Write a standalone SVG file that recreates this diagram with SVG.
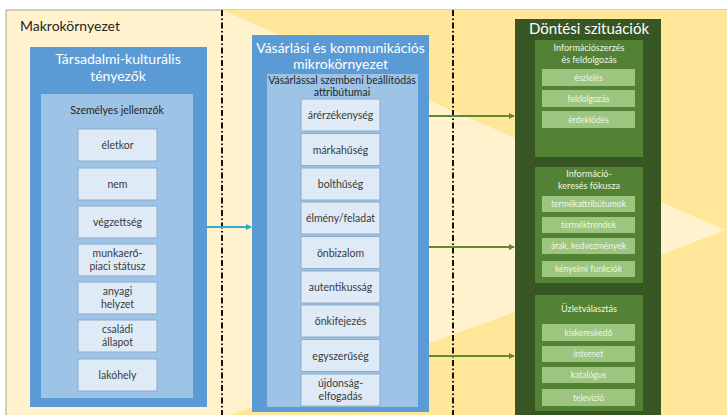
<svg xmlns="http://www.w3.org/2000/svg" width="727" height="415" viewBox="0 0 727 415">
<defs>
<style>
text{font-family:Lato,"Liberation Sans",sans-serif;text-anchor:middle}
.bo{fill:#5b9bd5}
.bi{fill:#9dc3e6}
.bx{fill:#deebf7;stroke:#8eaacb;stroke-width:1}
.bt{font-size:10.5px;fill:#3a3a3a}
.ttl{font-size:14px;fill:#ffffff}
.sub{font-size:10.5px;fill:#262626}
.go{fill:#375623}
.gp{fill:#548235}
.gx{fill:#9cc57f}
.gt{font-size:8.5px;fill:#eef6e6}
.gh{font-size:9px;fill:#eef6e6}
.dd{stroke:#111;stroke-width:2;stroke-dasharray:6 2.5 1.5 2.5;fill:none}
.cg{stroke:#5f8a2f;stroke-width:2;fill:none;marker-end:url(#ag)}
.cb{stroke:#30a8cf;stroke-width:2;fill:none;marker-end:url(#ab)}
</style>
<marker id="ag" viewBox="0 0 6 6" refX="5" refY="3" markerWidth="3" markerHeight="3" orient="auto"><path d="M0,0 L6,3 L0,6 z" fill="#5f8a2f"/></marker>
<marker id="ab" viewBox="0 0 6 6" refX="5" refY="3" markerWidth="3" markerHeight="3" orient="auto"><path d="M0,0 L6,3 L0,6 z" fill="#30a8cf"/></marker>
</defs>
<rect width="727" height="415" fill="#ffffff"/>
<g id="background">
<rect x="6" y="10" width="730" height="420" fill="#fff2cc" stroke="#a0a0a0" stroke-width="1"/>
<rect x="222" y="10" width="505" height="405" fill="#ffe699"/>
<polygon points="222,10 513,137 725,230 513,313 222,418" fill="#fff2cc"/>
<text x="20" y="31" style="font-size:14px;fill:#262626;text-anchor:start">Makrokörnyezet</text>
<line class="dd" x1="222" y1="10" x2="222" y2="415"/>
<line class="dd" x1="453" y1="10" x2="453" y2="415"/>
</g>
<g id="tarsadalmi">
<rect class="bo" x="30" y="47" width="177" height="360"/>
<text class="ttl" x="118" y="64">Társadalmi-kulturális</text>
<text class="ttl" x="118" y="81">tényezők</text>
</g>
<g id="szemelyes">
<rect class="bi" x="41" y="94" width="152" height="304"/>
<text class="sub" x="117" y="114">Személyes jellemzők</text>
</g>
<g id="eletkor"><rect class="bx" x="78" y="129" width="79" height="32"/><text class="bt" x="117.5" y="149">életkor</text></g>
<g id="nem"><rect class="bx" x="78" y="168" width="79" height="32"/><text class="bt" x="117.5" y="188">nem</text></g>
<g id="vegzettseg"><rect class="bx" x="78" y="206" width="79" height="32"/><text class="bt" x="117.5" y="226">végzettség</text></g>
<g id="munkaero"><rect class="bx" x="78" y="244" width="79" height="32"/><text class="bt" x="117.5" y="257">munkaerő-</text><text class="bt" x="117.5" y="270">piaci státusz</text></g>
<g id="anyagi"><rect class="bx" x="78" y="282" width="79" height="32"/><text class="bt" x="117.5" y="295">anyagi</text><text class="bt" x="117.5" y="308">helyzet</text></g>
<g id="csaladi"><rect class="bx" x="78" y="320" width="79" height="32"/><text class="bt" x="117.5" y="333">családi</text><text class="bt" x="117.5" y="346">állapot</text></g>
<g id="lakohely"><rect class="bx" x="78" y="359" width="79" height="32"/><text class="bt" x="117.5" y="379">lakóhely</text></g>
<g id="vasarlasi">
<rect class="bo" x="252" y="35" width="177" height="377"/>
<text class="ttl" x="340.5" y="53">Vásárlási és kommunikációs</text>
<text class="ttl" x="340.5" y="69">mikrokörnyezet</text>
</g>
<g id="beallitodas">
<rect class="bi" x="267" y="74" width="151" height="333"/>
<text class="sub" x="342" y="84">Vásárlással szembeni beállítódás</text>
<text class="sub" x="342" y="96">attribútumai</text>
</g>
<g id="arerzekenyseg"><rect class="bx" x="301" y="99" width="79" height="32"/><text class="bt" x="340.5" y="119">árérzékenység</text></g>
<g id="markahuseg"><rect class="bx" x="301" y="133.5" width="79" height="32"/><text class="bt" x="340.5" y="153.5">márkahűség</text></g>
<g id="bolthuseg"><rect class="bx" x="301" y="168" width="79" height="32"/><text class="bt" x="340.5" y="188">bolthűség</text></g>
<g id="elmeny"><rect class="bx" x="301" y="202" width="79" height="32"/><text class="bt" x="340.5" y="222">élmény/feladat</text></g>
<g id="onbizalom"><rect class="bx" x="301" y="236.5" width="79" height="32"/><text class="bt" x="340.5" y="256.5">önbizalom</text></g>
<g id="autentikussag"><rect class="bx" x="301" y="271" width="79" height="32"/><text class="bt" x="340.5" y="291">autentikusság</text></g>
<g id="onkifejezes"><rect class="bx" x="301" y="305" width="79" height="32"/><text class="bt" x="340.5" y="325">önkifejezés</text></g>
<g id="egyszeruseg"><rect class="bx" x="301" y="339.5" width="79" height="32"/><text class="bt" x="340.5" y="359.5">egyszerűség</text></g>
<g id="ujdonsag"><rect class="bx" x="301" y="374" width="79" height="32"/><text class="bt" x="340.5" y="387">újdonság-</text><text class="bt" x="340.5" y="400">elfogadás</text></g>
<g id="dontesi">
<rect class="go" x="515" y="19" width="146" height="396"/>
<text class="ttl" x="589" y="34" style="font-size:15px">Döntési szituációk</text>
</g>
<g id="informacioszerzes">
<rect class="gp" x="535" y="40" width="108" height="117"/>
<text class="gh" x="589" y="51">Információszerzés</text>
<text class="gh" x="589" y="63">és feldolgozás</text>
<rect class="gx" x="542" y="69" width="93" height="17"/><text class="gt" x="588.5" y="80.5">észlelés</text>
<rect class="gx" x="542" y="90" width="93" height="17"/><text class="gt" x="588.5" y="101.5">feldolgozás</text>
<rect class="gx" x="542" y="111" width="93" height="17"/><text class="gt" x="588.5" y="122.5">érdeklődés</text>
</g>
<g id="informaciokereses">
<rect class="gp" x="535" y="167" width="108" height="116"/>
<text class="gh" x="589" y="177">Információ-</text>
<text class="gh" x="589" y="189">keresés fókusza</text>
<rect class="gx" x="542" y="196" width="93" height="16"/><text class="gt" x="588.5" y="207">termékattribútumok</text>
<rect class="gx" x="542" y="217" width="93" height="16"/><text class="gt" x="588.5" y="228">terméktrendek</text>
<rect class="gx" x="542" y="238" width="93" height="16"/><text class="gt" x="588.5" y="249">árak, kedvezmények</text>
<rect class="gx" x="542" y="261" width="93" height="16"/><text class="gt" x="588.5" y="272">kényelmi funkciók</text>
</g>
<g id="uzletvalasztas">
<rect class="gp" x="535" y="295" width="108" height="116"/>
<text class="gh" x="589" y="312">Üzletválasztás</text>
<rect class="gx" x="542" y="324" width="93" height="17"/><text class="gt" x="588.5" y="335.5">kiskereskedő</text>
<rect class="gx" x="542" y="346" width="93" height="16"/><text class="gt" x="588.5" y="357">internet</text>
<rect class="gx" x="542" y="367" width="93" height="16"/><text class="gt" x="588.5" y="378">katalógus</text>
<rect class="gx" x="542" y="389" width="93" height="17"/><text class="gt" x="588.5" y="400.5">televízió</text>
</g>
<g id="connectors">
<line class="cb" x1="207" y1="227" x2="251" y2="227"/>
<line class="cg" x1="429" y1="116" x2="514" y2="116"/>
<line class="cg" x1="429" y1="247" x2="514" y2="247"/>
<line class="cg" x1="429" y1="356" x2="514" y2="356"/>
</g>
</svg>
